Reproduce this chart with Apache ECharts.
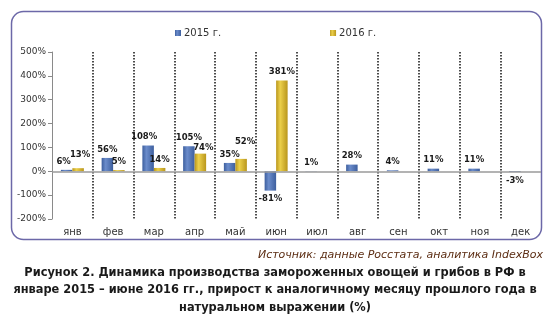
<!DOCTYPE html>
<html>
<head>
<meta charset="utf-8">
<script src="https://cdn.jsdelivr.net/npm/echarts@6/dist/echarts.min.js"></script>
<style>
  html, body { margin: 0; padding: 0; background: #fff; }
  #chart { width: 550px; height: 323px; }
</style>
</head>
<body>
<div id="chart"></div>
<script>
// Months (Russian abbreviations)
const months = ['янв', 'фев', 'мар', 'апр', 'май', 'июн', 'июл', 'авг', 'сен', 'окт', 'ноя', 'дек'];
// Year-on-year growth, %
const values2015 = [6, 56, 108, 105, 35, -81, 1, 28, 4, 11, 11, -3];
const values2016 = [13, 5, 14, 74, 52, 381, null, null, null, null, null, null];
const seriesNames = ['2015 г.', '2016 г.'];
// Value axis range and step
const yMin = -200, yMax = 500, yStep = 100;

const sourceText = 'Источник: данные Росстата, аналитика IndexBox';
const captionLines = [
  'Рисунок 2. Динамика производства замороженных овощей и грибов в РФ в',
  'январе 2015 – июне 2016 гг., прирост к аналогичному месяцу прошлого года в',
  'натуральном выражении (%)'
];

const FONT = 'DejaVu Sans';

// Horizontal gradient gives the bars a rounded, cylinder-like look
function barGradient(dark, light) {
  return new echarts.graphic.LinearGradient(0, 0, 1, 0, [
    { offset: 0, color: dark },
    { offset: 0.35, color: light },
    { offset: 1, color: dark }
  ]);
}
const blue = barGradient('#3d5f9e', '#6b8ccb');
const gold = barGradient('#b9961c', '#ecd04a');

// Per-label nudges so the value labels do not collide
const offsets2015 = { 0: [-3, 0], 2: [-4, 0] };
const offsets2016 = { 0: [2, -5], 3: [3, 3], 4: [4, -9] };

function buildData(values, offsets) {
  return values.map((v, i) => {
    if (v === null) return null;
    const item = { value: v, label: {} };
    if (v < 0) item.label.position = 'bottom';
    if (offsets[i]) item.label.offset = offsets[i];
    return item;
  });
}

const labelStyle = {
  show: true,
  position: 'top',
  distance: 4,
  formatter: p => p.value + '%',
  fontFamily: FONT,
  fontWeight: 'bold',
  fontSize: 8.5,
  color: '#1a1a1a'
};

const chart = echarts.init(document.getElementById('chart'), null, { renderer: 'canvas' });

const captionStyle = {
  fontFamily: FONT, fontWeight: 'bold', fontSize: 11.4, fill: '#1a1a1a',
  align: 'center', verticalAlign: 'middle'
};

chart.setOption({
  animation: false,
  backgroundColor: '#fff',
  legend: {
    left: 170, top: 23,
    itemWidth: 6, itemHeight: 6, itemGap: 109,
    icon: 'rect',
    textStyle: { fontFamily: FONT, fontSize: 10, color: '#333', padding: [0, 0, 0, -2] },
    data: seriesNames
  },
  grid: { left: 52, right: 9, top: 52, bottom: 104 },
  xAxis: {
    type: 'category',
    data: months,
    axisLine: { show: false, onZero: false },
    axisTick: { show: false },
    axisLabel: { fontFamily: FONT, fontSize: 10, color: '#333', margin: 8 },
    splitLine: {
      show: true,
      showMinLine: false,
      showMaxLine: false,
      lineStyle: { color: '#111', width: 1.5, type: [1.5, 1.5] }
    }
  },
  yAxis: {
    type: 'value',
    min: yMin, max: yMax, interval: yStep,
    axisLine: { show: true, lineStyle: { color: '#8a8a8a', width: 1 } },
    axisTick: { show: true, length: 4, lineStyle: { color: '#8a8a8a' } },
    axisLabel: { fontFamily: FONT, fontSize: 9, color: '#333', margin: 6, formatter: '{value}%' },
    splitLine: { show: false }
  },
  series: [
    {
      name: seriesNames[0],
      type: 'bar',
      barWidth: 11.5,
      barGap: '0%',
      itemStyle: { color: blue },
      label: labelStyle,
      data: buildData(values2015, offsets2015),
      markLine: {
        silent: true,
        symbol: 'none',
        label: { show: false },
        lineStyle: { color: '#9a9a9a', width: 1.5, type: 'solid' },
        data: [{ yAxis: 0 }]
      }
    },
    {
      name: seriesNames[1],
      type: 'bar',
      barWidth: 11.5,
      barGap: '0%',
      itemStyle: { color: gold },
      label: labelStyle,
      data: buildData(values2016, offsets2016)
    }
  ],
  graphic: [
    {
      type: 'rect',
      z: -1,
      shape: { x: 11.5, y: 11.5, width: 530, height: 228, r: 12 },
      style: { fill: 'none', stroke: '#6c68a8', lineWidth: 1.5 }
    },
    {
      type: 'text',
      x: 543, y: 255,
      style: {
        text: sourceText,
        fontFamily: FONT, fontStyle: 'italic', fontSize: 11, fill: '#5b2c12',
        align: 'right', verticalAlign: 'middle'
      }
    }
  ].concat(captionLines.map((line, i) => ({
    type: 'text',
    x: 275, y: 273 + i * 17.5,
    style: Object.assign({ text: line }, captionStyle)
  })))
});
</script>
</body>
</html>
